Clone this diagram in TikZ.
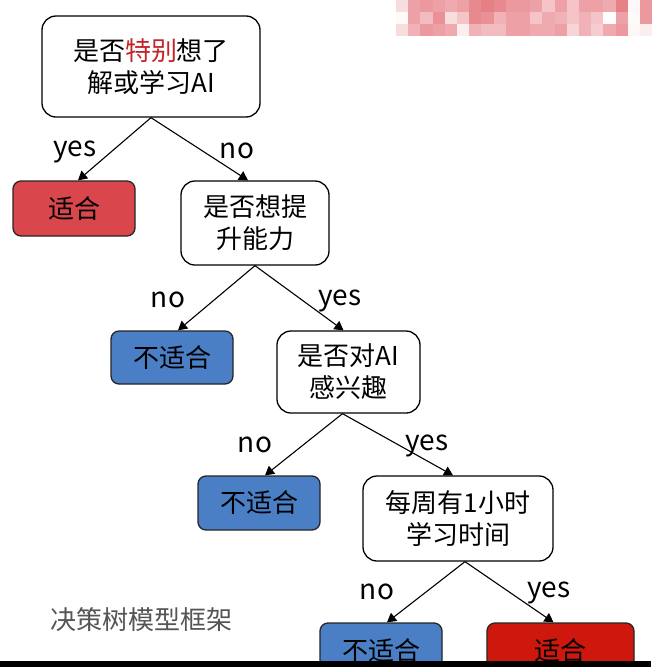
\documentclass[tikz,border=0pt]{standalone}
\usepackage{fontspec}
\newfontfamily\cjk{Noto Sans CJK SC}
\usetikzlibrary{arrows.meta}
\definecolor{okred}{RGB}{217,70,76}
\definecolor{okred2}{RGB}{206,24,14}
\definecolor{noblue}{RGB}{74,126,197}
\definecolor{txtred}{RGB}{196,36,40}
\definecolor{captiongray}{RGB}{85,85,85}
\definecolor{pinkbase}{RGB}{222,85,95}
\tikzset{
  qbox/.style={draw=black, line width=1.3pt, rounded corners=14pt, fill=white, align=center,
    font=\cjk\fontsize{26}{32}\selectfont, inner sep=0pt},
  leafbox/.style={draw=black!85, line width=1.3pt, rounded corners=8pt, align=center,
    font=\cjk\fontsize{26}{32}\selectfont, inner sep=0pt},
  conn/.style={draw=black, line width=1.1pt, -{Triangle[width=10pt,length=9pt]}},
  elabel/.style={font=\cjk\fontsize{28}{32}\selectfont, inner sep=0pt},
}
\begin{document}
\begin{tikzpicture}[x=1pt,y=-1pt]
\useasboundingbox[fill=white] (0,0) rectangle (651,667);
% mosaic
\def\rowA{20,55,60,55,50,55,70,75,70,60,60,55,35,55,35,55,55,50,75,5,60}
\def\rowB{3,55,40,65,20,35,70,65,45,55,55,35,50,45,35,45,35,2,55,3,60}
\def\rowC{20,45,60,55,50,10,45,40,40,55,55,50,50,55,25,45,30,50,60,5,10}
\foreach \v [count=\i from 0] in \rowA {\fill[pinkbase!\v!white] (396+12.2*\i,0) rectangle ++(12.3,12);}
\foreach \v [count=\i from 0] in \rowB {\fill[pinkbase!\v!white] (396+12.2*\i,12) rectangle ++(12.3,12);}
\foreach \v [count=\i from 0] in \rowC {\fill[pinkbase!\v!white] (396+12.2*\i,24) rectangle ++(12.3,12);}

\node[qbox, minimum width=218pt, minimum height=101pt] (root) at (151,66.5) {是否{\color{txtred}特别}想了\\解或学习AI};
\node[leafbox, fill=okred, minimum width=122pt, minimum height=55pt] (ok1) at (74,208.5) {适合};
\node[qbox, minimum width=148pt, minimum height=84pt] (q2) at (255,223) {是否想提\\升能力};
\node[leafbox, fill=noblue, minimum width=122pt, minimum height=53pt] (no1) at (172,357.5) {不适合};
\node[qbox, minimum width=143pt, minimum height=82pt] (q3) at (348.5,372) {是否对AI\\感兴趣};
\node[leafbox, fill=noblue, minimum width=122pt, minimum height=54pt] (no2) at (259,503) {不适合};
\node[qbox, minimum width=190pt, minimum height=85pt] (q4) at (458,518.5) {每周有1小时\\学习时间};
\node[leafbox, fill=noblue, minimum width=122pt, minimum height=55pt] (no3) at (381,650.5) {不适合};
\node[leafbox, fill=okred2, minimum width=147pt, minimum height=55pt] (ok2) at (560.5,650.5) {适合};

\draw[conn] (root.south) -- ([xshift=4pt]ok1.north);
\draw[conn] (root.south) -- ([xshift=-7pt]q2.north);
\draw[conn] (q2.south) -- ([xshift=6pt]no1.north);
\draw[conn] (q2.south) -- ([xshift=-5pt]q3.north);
\draw[conn] ([xshift=-6pt]q3.south) -- ([xshift=6pt]no2.north);
\draw[conn] ([xshift=-6pt]q3.south) -- ([xshift=-5pt]q4.north);
\draw[conn] ([xshift=7pt]q4.south) -- ([xshift=6pt]no3.north);
\draw[conn] ([xshift=7pt]q4.south) -- ([xshift=-7pt]ok2.north);

\node[elabel] (l1) at (75,152) {yes};
\node[elabel] (l2) at (237,151) {no};
\node[elabel] (l3) at (168,300) {no};
\node[elabel] (l4) at (340,301) {yes};
\node[elabel] (l5) at (255,445) {no};
\node[elabel] (l6) at (427,446) {yes};
\node[elabel] (l7) at (377,592) {no};
\node[elabel] (l8) at (549,593) {yes};

\node[font=\cjk\fontsize{26}{32}\selectfont, text=captiongray, inner sep=0pt] (cap) at (141,620) {决策树模型框架};

\fill[black] (0,661) rectangle (651,667);
\end{tikzpicture}
\end{document}
